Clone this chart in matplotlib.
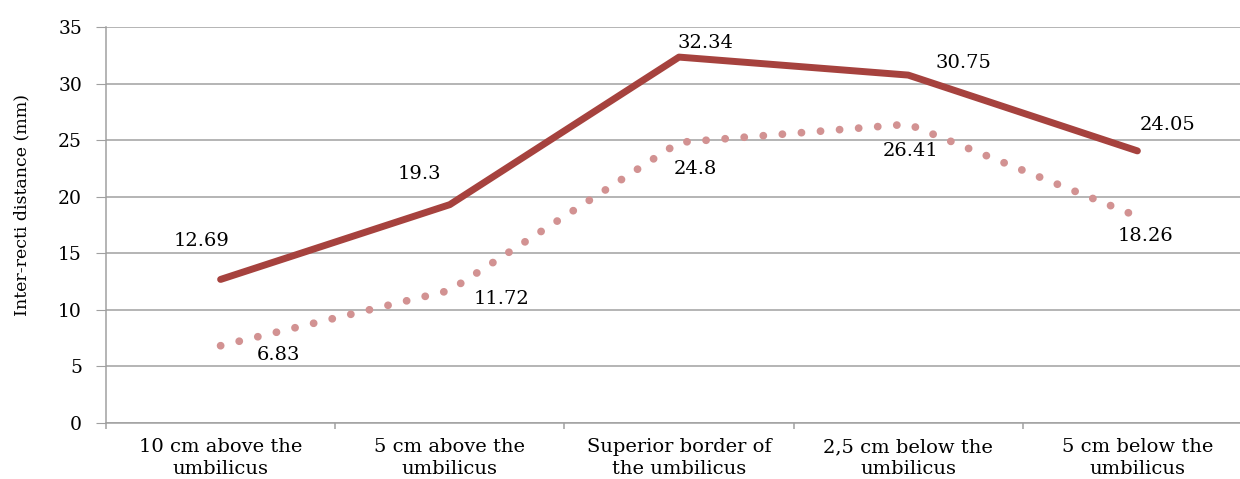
import matplotlib.pyplot as plt
import numpy as np

# Data
categories = [
    "10 cm above the\numbilicus",
    "5 cm above the\numbilicus",
    "Superior border of\nthe umbilicus",
    "2,5 cm below the\numbilicus",
    "5 cm below the\numbilicus",
]
solid_values = [12.69, 19.3, 32.34, 30.75, 24.05]
dotted_values = [6.83, 11.72, 24.8, 26.41, 18.26]
y_ticks = [0, 5, 10, 15, 20, 25, 30, 35]

# label offsets in points (manual placement as in the original)
solid_offsets = [(-14, 28), (-22, 22), (19, 10), (40, 9), (22, 19)]
dotted_offsets = [(42, -7), (37, -6), (12, -19), (2, -19), (6, -14)]

solid_color = "#A6423E"
dotted_color = "#D29292"
grid_color = "#A0A0A0"

plt.rcParams["font.family"] = "DejaVu Serif"

fig = plt.figure(figsize=(12.4, 4.79), dpi=100)
ax = fig.add_axes([106 / 1240, 56 / 479, 1146 / 1240, 396 / 479])

x = np.arange(len(categories))

ax.plot(x, solid_values, color=solid_color, lw=5, solid_capstyle="round",
        solid_joinstyle="round", zorder=3)
ax.plot(x, dotted_values, color=dotted_color, lw=5.6, linestyle=(0, (0.01, 2.45)),
        dash_capstyle="round", dash_joinstyle="round", zorder=2)

# data labels
for xi, v, off in zip(x, solid_values, solid_offsets):
    ax.annotate(f"{v:g}", (xi, v), xytext=off, textcoords="offset points",
                ha="center", va="center", fontsize=14, color="black")
for xi, v, off in zip(x, dotted_values, dotted_offsets):
    ax.annotate(f"{v:g}", (xi, v), xytext=off, textcoords="offset points",
                ha="center", va="center", fontsize=14, color="black")

ax.set_xlim(-0.5, len(categories) - 0.5)
ax.set_ylim(0, 35)
ax.set_yticks(y_ticks)
ax.tick_params(axis="y", length=7.2, color=grid_color, pad=10, labelsize=13.5)
ax.yaxis.grid(True, color=grid_color, lw=1.1)
ax.set_axisbelow(True)

ax.set_xticks(x)
ax.set_xticklabels(categories, fontsize=14, linespacing=1.3)
ax.set_xticks(np.arange(-0.5, len(categories)), minor=True)
ax.tick_params(axis="x", which="major", length=0, pad=11)
ax.tick_params(axis="x", which="minor", length=4.5, color=grid_color, width=1.1)

for side in ["top", "right"]:
    ax.spines[side].set_visible(False)
for side in ["left", "bottom"]:
    ax.spines[side].set_color(grid_color)
    ax.spines[side].set_linewidth(1.1)

fig.text(22 / 1240, 1 - 205 / 479, "Inter-recti distance (mm)", rotation=90,
         ha="center", va="center", fontsize=12.5)

plt.savefig("out.png", dpi=100)
